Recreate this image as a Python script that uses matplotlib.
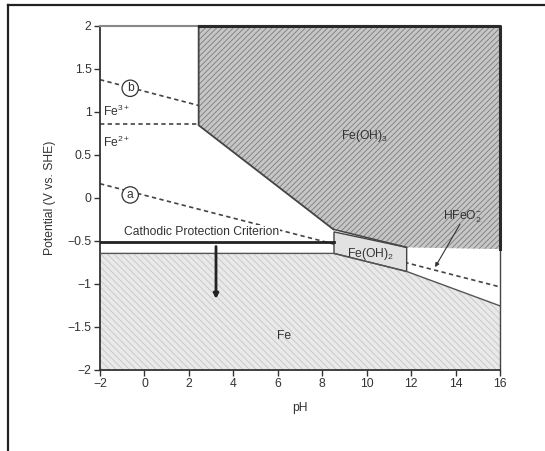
import matplotlib
matplotlib.use("Agg")
import matplotlib.pyplot as plt
from matplotlib.patches import Polygon
from matplotlib.lines import Line2D

plt.rcParams['font.family'] = ['Liberation Sans', 'DejaVu Sans']
plt.rcParams['mathtext.fontset'] = 'custom'
plt.rcParams['mathtext.rm'] = 'Liberation Sans'
plt.rcParams['mathtext.it'] = 'Liberation Sans:italic'
plt.rcParams['mathtext.bf'] = 'Liberation Sans:bold'
plt.rcParams['hatch.linewidth'] = 0.6

# ---- data (pH, potential V vs SHE) ----
feoh3_ph = [2.44, 16.0, 16.0, 11.8, 8.5, 2.44]
feoh3_e = [2.0, 2.0, -0.6, -0.58, -0.37, 0.84]

feoh2_ph = [8.53, 11.8, 11.8, 8.53]
feoh2_e = [-0.40, -0.58, -0.86, -0.65]

fe_ph = [-2.0, 8.53, 11.8, 16.0, 16.0, -2.0]
fe_e = [-0.65, -0.65, -0.86, -1.26, -2.0, -2.0]

line_a_ph = [-2.0, 16.0]
line_a_e = [0.16, -1.04]
line_b_ph = [-2.0, 2.44]
line_b_e = [1.37, 1.07]
fe32_ph = [-2.0, 2.44]
fe32_e = [0.85, 0.85]

cp_ph = [-2.0, 8.53]
cp_e = [-0.52, -0.52]
arrow_ph = 3.22
arrow_e = [-0.57, -1.18]

x_ticks = [-2, 0, 2, 4, 6, 8, 10, 12, 14, 16]
x_tick_labels = ['\u22122', '0', '2', '4', '6', '8', '10', '12', '14', '16']
y_ticks = [2, 1.5, 1, 0.5, 0, -0.5, -1, -1.5, -2]
y_tick_labels = ['2', '1.5', '1', '0.5', '0', '\u22120.5', '\u22121', '\u22121.5', '\u22122']

fig = plt.figure(figsize=(5.45, 4.51), dpi=100)
ax = fig.add_axes([100 / 545, 1 - 369.5 / 451, 400 / 545, 344 / 451])
ax.set_xlim(-2, 16)
ax.set_ylim(-2, 2)

# regions
ax.add_patch(Polygon(list(zip(feoh3_ph, feoh3_e)), closed=True, facecolor='#c6c6c6',
                     edgecolor='#7c7c7c', hatch='//////', linewidth=0, zorder=1))
ax.add_patch(Polygon(list(zip(fe_ph, fe_e)), closed=True, facecolor='#e9e9e9',
                     edgecolor='#c6c6c6', hatch='\\\\\\\\\\', linewidth=0, zorder=1))

# dashed water / equilibrium lines
dash = (0, (2.6, 2.0))
ax.plot(line_a_ph, line_a_e, color='#444444', lw=1.2, ls=dash, zorder=2)
ax.plot(line_b_ph, line_b_e, color='#444444', lw=1.2, ls=dash, zorder=2)
ax.plot(fe32_ph, fe32_e, color='#444444', lw=1.2, ls=dash, zorder=2)

# Fe(OH)2 box
ax.add_patch(Polygon(list(zip(feoh2_ph, feoh2_e)), closed=True, facecolor='#e2e2e2',
                     edgecolor='#444444', linewidth=1.0, zorder=3))

# boundaries
ax.plot(feoh3_ph[4:] + [feoh3_ph[0]], feoh3_e[4:] + [feoh3_e[0]], color='#444444', lw=1.3, zorder=4)
ax.plot([feoh3_ph[3], feoh3_ph[4]], [feoh3_e[3], feoh3_e[4]], color='#444444', lw=1.1, zorder=4)
ax.plot(feoh3_ph[:3], feoh3_e[:3], color='#2a2a2a', lw=2.2, zorder=5, clip_on=False)
ax.plot(fe_ph[:4], fe_e[:4], color='#555555', lw=1.0, zorder=4)

# cathodic protection criterion
ax.plot(cp_ph, cp_e, color='#222222', lw=2.0, zorder=5)
ax.annotate('', xy=(arrow_ph, arrow_e[1]), xytext=(arrow_ph, arrow_e[0]),
            arrowprops=dict(arrowstyle='-|>', color='#222222', lw=2.0,
                            mutation_scale=7, shrinkA=0, shrinkB=0), zorder=6)

# labels
fs = 8.7
ax.text(-0.9, -0.40, 'Cathodic Protection Criterion', fontsize=fs, color='#333333',
        ha='left', va='center', zorder=4,
        bbox=dict(facecolor='white', edgecolor='none', pad=0.5))
ax.text(-0.64, 1.27, 'b', fontsize=fs, ha='center', va='center', color='#333333', zorder=6,
        bbox=dict(boxstyle='circle,pad=0.18', facecolor='white', edgecolor='#333333', lw=0.9))
ax.text(-0.64, 0.03, 'a', fontsize=fs, ha='center', va='center', color='#333333', zorder=6,
        bbox=dict(boxstyle='circle,pad=0.18', facecolor='white', edgecolor='#333333', lw=0.9))
ax.text(-1.85, 1.0, r'$\mathregular{Fe^{3+}}$', fontsize=fs, ha='left', va='center', color='#333333')
ax.text(-1.85, 0.64, r'$\mathregular{Fe^{2+}}$', fontsize=fs, ha='left', va='center', color='#333333')
ax.text(9.9, 0.71, r'$\mathregular{Fe(OH)_3}$', fontsize=fs, ha='center', va='center', color='#333333', zorder=6)
ax.text(10.15, -0.66, r'$\mathregular{Fe(OH)_2}$', fontsize=fs, ha='center', va='center', color='#333333', zorder=6)
ax.text(14.3, -0.22, r'$\mathregular{HFeO_2^{-}}$', fontsize=fs, ha='center', va='center', color='#333333', zorder=6)
ax.annotate('', xy=(13.08, -0.81), xytext=(14.2, -0.31),
            arrowprops=dict(arrowstyle='-|>', color='#333333', lw=0.8,
                            mutation_scale=6, shrinkA=0, shrinkB=0), zorder=6)
ax.text(6.3, -1.61, 'Fe', fontsize=fs, ha='center', va='center', color='#333333', zorder=6)

# axes styling
ax.set_xticks(x_ticks)
ax.set_xticklabels(x_tick_labels)
ax.set_yticks(y_ticks)
ax.set_yticklabels(y_tick_labels)
ax.tick_params(direction='out', length=4, width=1.0, colors='#333333', labelsize=8.8, pad=2)
for s in ['left', 'bottom']:
    ax.spines[s].set_color('#333333')
    ax.spines[s].set_linewidth(1.3)
ax.spines['top'].set_color('#888888')
ax.spines['top'].set_linewidth(1.5)
ax.spines['right'].set_color('#444444')
ax.spines['right'].set_linewidth(1.0)
ax.set_xlabel('pH', fontsize=8.7, color='#333333', labelpad=9)
ax.set_ylabel('Potential (V vs. SHE)', fontsize=8.7, color='#333333', labelpad=8)

# outer frame
fig.add_artist(Line2D([8 / 545, 1.0], [1 - 5 / 451, 1 - 5 / 451], color='#222222', lw=1.6,
                      transform=fig.transFigure))
fig.add_artist(Line2D([8 / 545, 8 / 545], [0.0, 1 - 5 / 451], color='#222222', lw=1.6,
                      transform=fig.transFigure))

fig.savefig('out.png', dpi=100)
